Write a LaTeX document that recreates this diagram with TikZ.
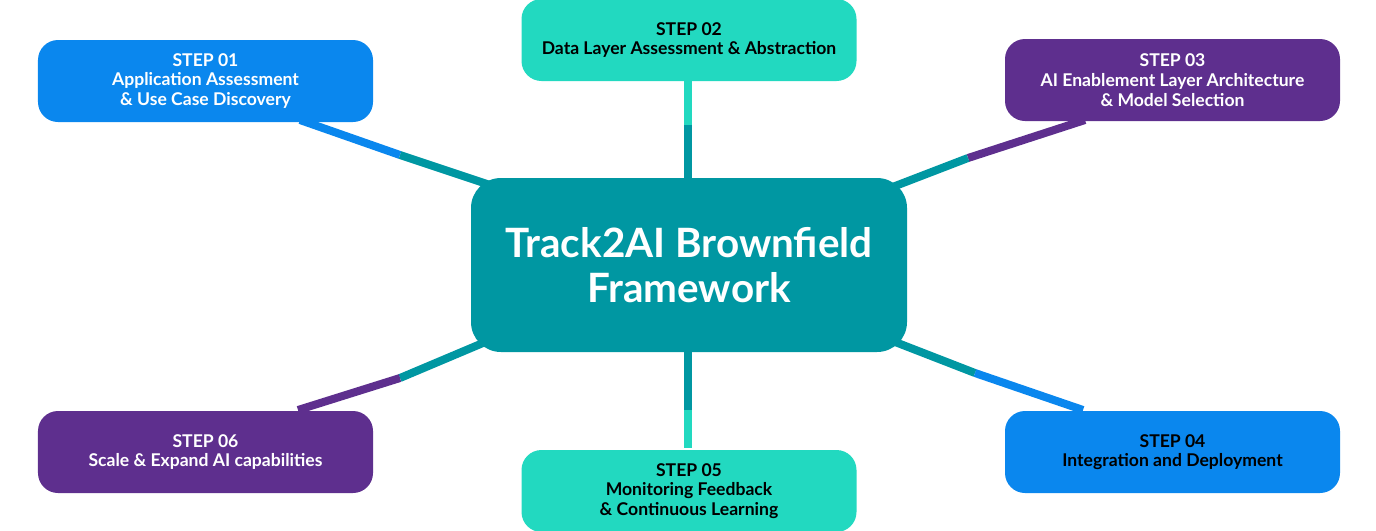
\documentclass[tikz,border=0pt]{standalone}
\usepackage{fontspec}
\setmainfont{Lato}
\usepackage{tikz}
\usetikzlibrary{positioning, calc}
\definecolor{hubteal}{HTML}{0097A2}
\definecolor{stepblue}{HTML}{0A87EE}
\definecolor{stepturq}{HTML}{22D9C0}
\definecolor{steppurple}{HTML}{5E2F8E}

\begin{document}
\begin{tikzpicture}[x=0.2mm, y=-0.2mm]
\tikzstyle{stepbox}=[rounded corners=4mm, minimum width=67mm, minimum height=16.4mm, align=center, inner sep=0pt, font=\fontsize{10}{11.2}\selectfont\bfseries]
\tikzstyle{link}=[line width=1.6mm]
%%
\useasboundingbox (0,0) rectangle (1376,530);

\coordinate (b01) at (400,155);
\coordinate (b02) at (688,125);
\coordinate (b03) at (968,158);
\coordinate (b04) at (975,373);
\coordinate (b05) at (688,410);
\coordinate (b06) at (400,378);

\draw [link, stepblue] (300,120) -- (b01);
\draw [link, hubteal] (b01) -- (490,185);
\draw [link, stepturq] (688,80) -- (b02);
\draw [link, hubteal] (b02) -- (688,178);
\draw [link, steppurple] (1085,120) -- (b03);
\draw [link, hubteal] (b03) -- (890,188);
\draw [link, hubteal] (890,340) -- (b04);
\draw [link, stepblue] (b04) -- (1083,410);
\draw [link, hubteal] (688,352) -- (b05);
\draw [link, stepturq] (b05) -- (688,448);
\draw [link, hubteal] (490,340) -- (b06);
\draw [link, steppurple] (b06) -- (298,410);

\node (hub) at (689,265) [rounded corners=6mm, fill=hubteal, text=white, minimum width=87.2mm, minimum height=34.8mm, align=center, font=\fontsize{23}{25.5}\selectfont\bfseries] {Track2AI Brownfield\\Framework};

\node (s01) at (205.5,81) [stepbox, fill=stepblue, text=white] {STEP 01\\Application Assessment\\\& Use Case Discovery};
\node (s02) at (689,40) [stepbox, fill=stepturq, text=black] {STEP 02\\Data Layer Assessment \& Abstraction};
\node (s03) at (1172.5,80) [stepbox, fill=steppurple, text=white] {STEP 03\\AI Enablement Layer Architecture\\\& Model Selection};
\node (s04) at (1172.5,452) [stepbox, fill=stepblue, text=black] {STEP 04\\Integration and Deployment};
\node (s05) at (689,491) [stepbox, fill=stepturq, text=black] {STEP 05\\Monitoring Feedback\\\& Continuous Learning};
\node (s06) at (205.5,452) [stepbox, fill=steppurple, text=white] {STEP 06\\Scale \& Expand AI capabilities};
\end{tikzpicture}
\end{document}
